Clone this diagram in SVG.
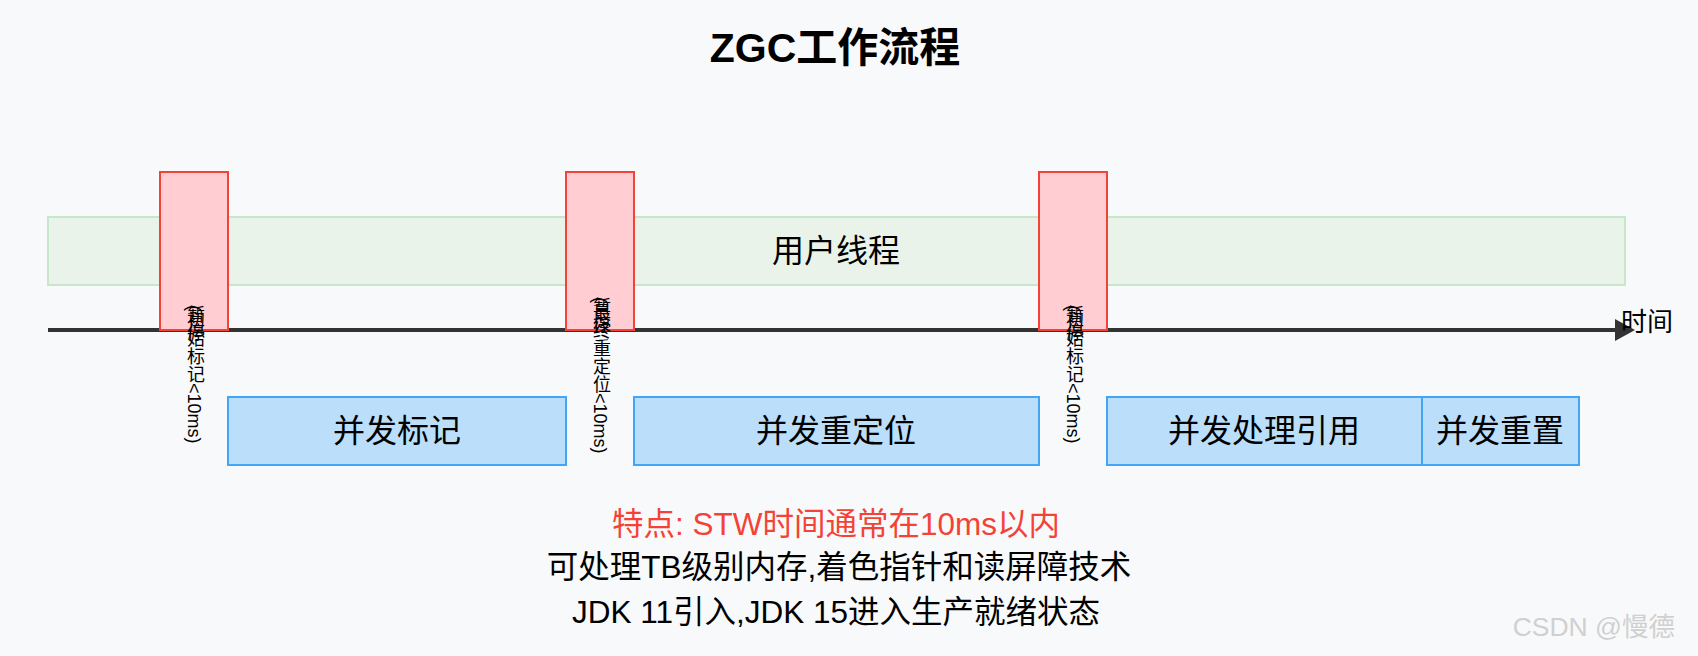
<svg xmlns="http://www.w3.org/2000/svg" width="1698" height="656" viewBox="0 0 1698 656">
<defs>
<style>
text{font-family:"Liberation Sans","Noto Sans CJK SC",sans-serif;fill:#000}
.title{font-size:41px;font-weight:bold}
.lbl{font-size:32px;text-anchor:middle}
.note{font-size:31.5px;text-anchor:middle}
.vt{font-size:18px;writing-mode:vertical-rl}
.green{fill:#eaf3ea;stroke:#c8e6c9;stroke-width:2}
.red{fill:#ffcdd2;stroke:#f44336;stroke-width:2}
.blue{fill:#bbdefb;stroke:#42a5f5;stroke-width:2}
</style>
<marker id="arr" markerWidth="20" markerHeight="22" refX="0" refY="11" orient="auto" markerUnits="userSpaceOnUse">
<path d="M0,0 L20,11 L0,22 Z" fill="#333"/>
</marker>
</defs>
<rect width="1698" height="656" fill="#f8f9fa"/>
<text class="title" x="835" y="62" text-anchor="middle">ZGC工作流程</text>
<g id="user-thread">
<rect class="green" x="48" y="217" width="1577" height="68"/>
<text class="lbl" x="836" y="262">用户线程</text>
</g>
<g id="connectors">
<line x1="48" y1="330" x2="1615" y2="330" stroke="#333" stroke-width="4" marker-end="url(#arr)"/>
</g>
<g id="pause1">
<rect class="red" x="160" y="172" width="68" height="158"/>
<text class="vt" x="194" y="305">暂停</text>
<text class="vt" x="194" y="305">(初始标记&lt;10ms)</text>
</g>
<g id="pause2">
<rect class="red" x="566" y="172" width="68" height="158"/>
<text class="vt" x="600" y="297">暂停</text>
<text class="vt" x="600" y="297">(最终重定位&lt;10ms)</text>
</g>
<g id="pause3">
<rect class="red" x="1039" y="172" width="68" height="158"/>
<text class="vt" x="1073" y="305">暂停</text>
<text class="vt" x="1073" y="305">(初始标记&lt;10ms)</text>
</g>
<g id="concurrent-mark">
<rect class="blue" x="228" y="397" width="338" height="68"/>
<text class="lbl" x="397" y="442">并发标记</text>
</g>
<g id="concurrent-relocate">
<rect class="blue" x="634" y="397" width="405" height="68"/>
<text class="lbl" x="836" y="442">并发重定位</text>
</g>
<g id="concurrent-ref">
<rect class="blue" x="1107" y="397" width="315" height="68"/>
<text class="lbl" x="1264" y="442">并发处理引用</text>
</g>
<g id="concurrent-reset">
<rect class="blue" x="1422" y="397" width="157" height="68"/>
<text class="lbl" x="1500" y="442">并发重置</text>
</g>
<text x="1621" y="331" font-size="26">时间</text>
<text class="note" x="836" y="535" style="fill:#f44336">特点: STW时间通常在10ms以内</text>
<text class="note" x="839" y="578">可处理TB级别内存,着色指针和读屏障技术</text>
<text class="note" x="836" y="623">JDK 11引入,JDK 15进入生产就绪状态</text>
<text x="1675" y="636" font-size="26.5" text-anchor="end" style="fill:#d0d0d0">CSDN @慢德</text>
</svg>
